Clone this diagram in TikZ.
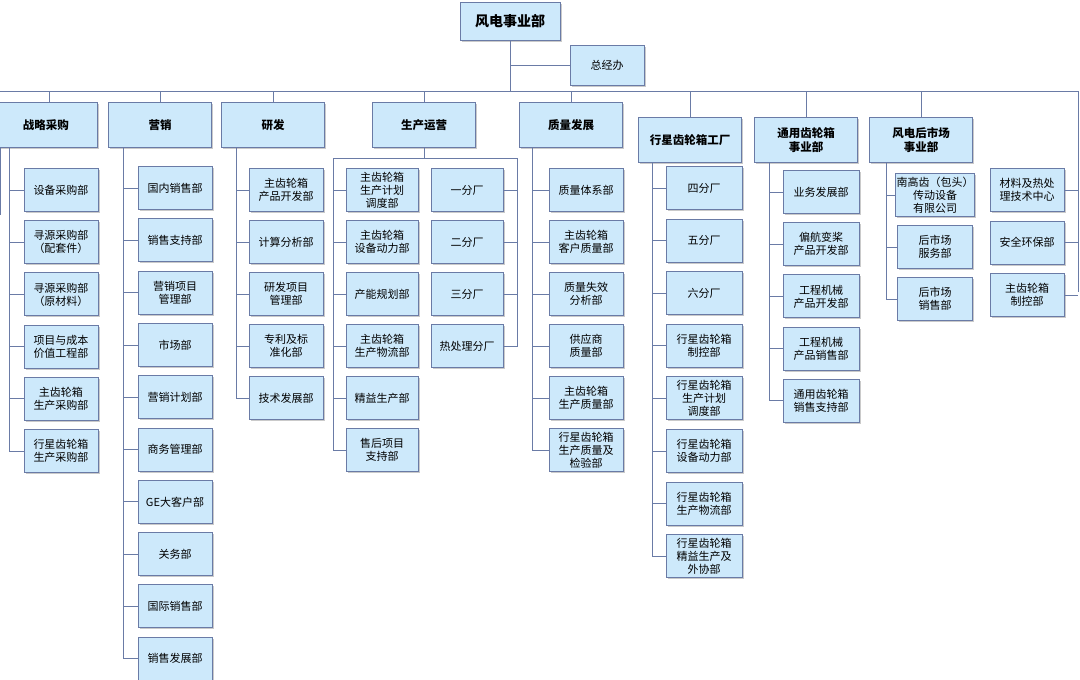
\documentclass[tikz,border=0pt]{standalone}
\usepackage{fontspec}
\setmainfont{Noto Sans CJK SC}
\usetikzlibrary{shadows}
\definecolor{boxfill}{HTML}{CDE9FB}
\definecolor{boxline}{HTML}{6A7BA6}
\tikzset{
  unitbox/.style={draw=boxline, fill=boxfill, line width=0.9pt, align=center,
    minimum width=74pt, minimum height=43pt, inner sep=1pt,
    font=\fontsize{11}{13}\selectfont,
    drop shadow={shadow xshift=1.5pt, shadow yshift=-1.5pt, fill=black!35, opacity=0.6}},
  headbox/.style={unitbox, minimum width=103pt, minimum height=45pt, font=\fontsize{11.5}{14}\selectfont\bfseries},
  link/.style={draw=boxline, line width=0.8pt}
}
\begin{document}
\begin{tikzpicture}[x=1pt, y=-1pt]
\useasboundingbox (0,0) rectangle (1080,680);
% top level
\node[headbox, minimum width=100pt, minimum height=38pt, font=\fontsize{14}{16}\selectfont\bfseries] (wind) at (510,21) {风电事业部};
\node[unitbox, minimum height=40pt, font=\fontsize{11}{13}\selectfont] (office) at (607,65) {总经办};
\coordinate (busL) at (0,91);
\coordinate (busR) at (1078,91);
\draw[link] (wind.south) -- (wind.south |- busL);
\draw[link] (wind.south |- office.west) -- (office.west);
\draw[link] (busL) -- (busR) -- (1078,292);

% second level
\node[headbox] (zl) at (46,125) {战略采购};
\node[headbox] (yx) at (160,125) {营销};
\node[headbox] (yf) at (273,125) {研发};
\node[headbox] (sc) at (424,125) {生产运营};
\node[headbox] (zf) at (571,125) {质量发展};
\node[headbox] (xx) at (690,140) {行星齿轮箱工厂};
\node[headbox] (ty) at (806,140) {通用齿轮箱\\事业部};
\node[headbox] (hs) at (921,140) {风电后市场\\事业部};
\foreach \h in {yx,yf,sc,zf,xx,ty,hs}
  \draw[link] (\h.north) -- (\h.north |- busL);
\draw[link] (49,91) -- (49,103);

% strategic purchasing
\foreach \t [count=\i] in {设备采购部,寻源采购部\\（配套件）,寻源采购部\\（原材料）,项目与成本\\价值工程部,主齿轮箱\\生产采购部,行星齿轮箱\\生产采购部}
  \node[unitbox] (zl\i) at (61,{190+52.2*(\i-1)}) {\t};
\foreach \i in {1,...,6}
  \draw[link] (9,148) |- (zl\i.west);
\draw[link] (0.5,148) -- (0.5,215);

% marketing
\foreach \t [count=\i] in {国内销售部,销售支持部,营销项目\\管理部,市场部,营销计划部,商务管理部,GE大客户部,关务部,国际销售部,销售发展部}
  \node[unitbox] (yx\i) at (175,{188+52.3*(\i-1)}) {\t};
\foreach \i in {1,...,10}
  \draw[link] ([xshift=15pt]yx.south west) |- (yx\i.west);

% research
\foreach \t [count=\i] in {主齿轮箱\\产品开发部,计算分析部,研发项目\\管理部,专利及标\\准化部,技术发展部}
  \node[unitbox] (yf\i) at (286,{190+52*(\i-1)}) {\t};
\foreach \i in {1,...,5}
  \draw[link] ([xshift=15pt]yf.south west) |- (yf\i.west);

% production
\foreach \t [count=\i] in {主齿轮箱\\生产计划\\调度部,主齿轮箱\\设备动力部,产能规划部,主齿轮箱\\生产物流部,精益生产部,售后项目\\支持部}
  \node[unitbox, minimum width=72pt] (scl\i) at (382,{190+52*(\i-1)}) {\t};
\foreach \t [count=\i] in {一分厂,二分厂,三分厂,热处理分厂}
  \node[unitbox, minimum width=72pt] (scr\i) at (467,{190+52*(\i-1)}) {\t};
\coordinate (scL) at (333,158);
\coordinate (scR) at (517,158);
\draw[link] (sc.south) -- (sc.south |- scL);
\draw[link] (scL) -- (scR);
\foreach \i in {1,...,6}
  \draw[link] (scL) |- (scl\i.west);
\foreach \i in {1,...,4}
  \draw[link] (scR) |- (scr\i.east);

% quality
\foreach \t [count=\i] in {质量体系部,主齿轮箱\\客户质量部,质量失效\\分析部,供应商\\质量部,主齿轮箱\\生产质量部}
  \node[unitbox] (zf\i) at (586,{190+52*(\i-1)}) {\t};
\node[unitbox] (zf6) at (586,450) {行星齿轮箱\\生产质量及\\检验部};
\foreach \i in {1,...,6}
  \draw[link] ([xshift=13pt]zf.south west) |- (zf\i.west);

% planetary gearbox factory
\foreach \t [count=\i] in {四分厂,五分厂,六分厂,行星齿轮箱\\制控部,行星齿轮箱\\生产计划\\调度部,行星齿轮箱\\设备动力部,行星齿轮箱\\生产物流部,行星齿轮箱\\精益生产及\\外协部}
  \node[unitbox, minimum width=76pt] (xx\i) at (704,{188+52.6*(\i-1)}) {\t};
\foreach \i in {1,...,8}
  \draw[link] ([xshift=14pt]xx.south west) |- (xx\i.west);

% general gearbox
\foreach \t [count=\i] in {业务发展部,偏航变桨\\产品开发部,工程机械\\产品开发部,工程机械\\产品销售部,通用齿轮箱\\销售支持部}
  \node[unitbox, minimum width=76pt] (ty\i) at (821,{192+52.2*(\i-1)}) {\t};
\foreach \i in {1,...,5}
  \draw[link] ([xshift=15pt]ty.south west) |- (ty\i.west);

% aftermarket
\foreach \t [count=\i] in {南高齿（包头）\\传动设备\\有限公司,后市场\\服务部,后市场\\销售部}
  \node[unitbox, minimum width=75pt] (hs\i) at (935,{195+52*(\i-1)}) {\t};
\foreach \i in {1,...,3}
  \draw[link] ([xshift=17pt]hs.south west) |- (hs\i.west);

% right column
\foreach \t [count=\i] in {材料及热处\\理技术中心,安全环保部,主齿轮箱\\制控部}
  \node[unitbox, minimum width=74pt] (rc\i) at (1027,{190+52.5*(\i-1)}) {\t};
\foreach \i in {1,...,3}
  \draw[link] (rc\i.east) -- (rc\i.east -| busR);
\end{tikzpicture}
\end{document}
